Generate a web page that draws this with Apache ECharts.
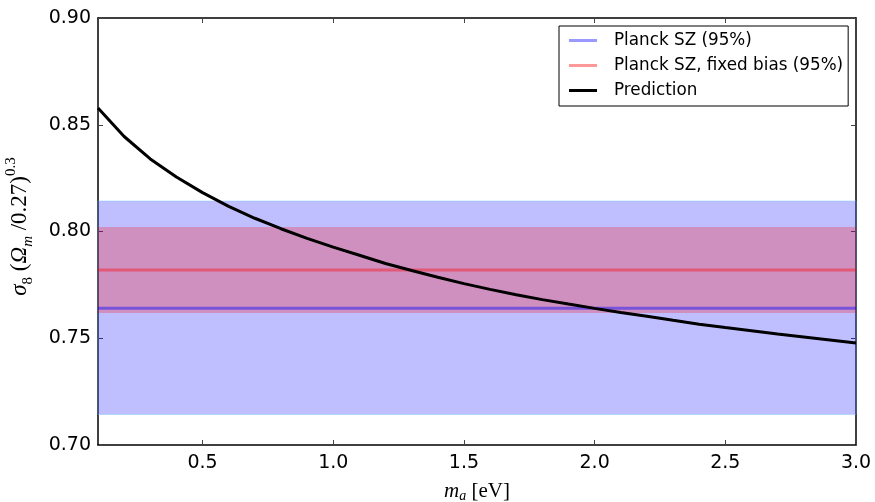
<!DOCTYPE html>
<html><head><meta charset="utf-8">
<script src="https://cdn.jsdelivr.net/npm/echarts@6/dist/echarts.min.js"></script>
<style>html,body{margin:0;padding:0;background:#fff}#c{width:875px;height:502px}</style>
</head><body><div id="c"></div>
<script>
// x positions of the prediction curve (eV)
const massValues = [0.1,0.2,0.3,0.4,0.5,0.6,0.7,0.8,0.9,1.0,1.1,1.2,1.3,1.4,1.5,1.6,1.7,1.8,1.9,2.0,2.1,2.2,2.3,2.4,2.5,2.6,2.7,2.8,2.9,3.0];
const predictionValues = [0.8578,0.8445,0.8340,0.8255,0.8182,0.8118,0.8062,0.8013,0.7968,0.7927,0.7889,0.7850,0.7817,0.7786,0.7756,0.7729,0.7704,0.7681,0.7660,0.7640,0.7621,0.7603,0.7584,0.7566,0.7550,0.7535,0.7520,0.7506,0.7492,0.7478];
const seriesNames = ['Planck SZ (95%)', 'Planck SZ, fixed bias (95%)', 'Prediction'];
const planckCenter = 0.764, planckLow = 0.7143, planckHigh = 0.8143;
const fixedCenter = 0.782, fixedLow = 0.7618, fixedHigh = 0.8021;
const xRange = [0.1, 3.0];
const yRange = [0.70, 0.90];
const xTicks = [0.5,1.0,1.5,2.0,2.5,3.0];
const yTicks = [0.70,0.75,0.80,0.85,0.90];

const chart = echarts.init(document.getElementById('c'));
const tickStyle = {show:true, inside:true, length:5, lineStyle:{color:'#444', width:1}};
const lineAx = {show:true, onZero:false, lineStyle:{color:'#000', width:1.5}};
const labelFont = {fontFamily:'DejaVu Sans', fontSize:19, color:'#000'};
const serif = 'Liberation Serif';
chart.setOption({
  animation:false,
  grid:{left:98, right:19, top:18, bottom:57, containLabel:false, outerBoundsMode:'none'},
  legend:{
    orient:'vertical', left:559, top:26,
    backgroundColor:'#fff', borderColor:'#000', borderWidth:1,
    padding:[6,5,7,10], itemGap:8, itemWidth:28, itemHeight:3, icon:'rect',
    textStyle:{fontFamily:'DejaVu Sans', fontSize:16.8, color:'#000', lineHeight:17, padding:[0,0,0,12]},
    data:[
      {name:seriesNames[0], itemStyle:{color:'rgba(0,0,255,0.4)'}},
      {name:seriesNames[1], itemStyle:{color:'rgba(255,0,0,0.4)'}},
      {name:seriesNames[2], itemStyle:{color:'#000'}, icon:'rect'}
    ]
  },
  xAxis:[{
    type:'value', min:xRange[0], max:xRange[1], position:'bottom',
    axisLine:lineAx, splitLine:{show:false},
    axisTick:Object.assign({customValues:xTicks}, tickStyle),
    axisLabel:Object.assign({customValues:xTicks, margin:9, formatter:v=>v.toFixed(1)}, labelFont),
    name:'{i|m}{s|a}{n| [eV]}', nameLocation:'middle', nameGap:34,
    nameTextStyle:{rich:{
      i:{fontFamily:serif, fontStyle:'italic', fontSize:21, color:'#000', lineHeight:24, verticalAlign:'middle'},
      s:{fontFamily:serif, fontStyle:'italic', fontSize:14, color:'#000', verticalAlign:'bottom'},
      n:{fontFamily:serif, fontSize:21, color:'#000', verticalAlign:'middle'}
    }}
  },{
    type:'value', min:xRange[0], max:xRange[1], position:'top',
    axisLine:lineAx, splitLine:{show:false},
    axisTick:Object.assign({customValues:xTicks}, tickStyle),
    axisLabel:{show:false}
  }],
  yAxis:[{
    type:'value', min:yRange[0], max:yRange[1], interval:0.05, position:'left',
    axisLine:lineAx, splitLine:{show:false},
    axisTick:Object.assign({customValues:yTicks}, tickStyle),
    axisLabel:Object.assign({customValues:yTicks, margin:7, formatter:v=>v.toFixed(2)}, labelFont),
    name:'{i|σ}{s|8}{n| (}{i|Ω}{si|m}{n| /0.27)}{p|0.3}', nameLocation:'middle', nameGap:62,
    nameTextStyle:{padding:[0,0,0,10], rich:{
      i:{fontFamily:serif, fontStyle:'italic', fontSize:23, color:'#000', lineHeight:32, verticalAlign:'middle'},
      s:{fontFamily:serif, fontSize:15, color:'#000', verticalAlign:'bottom'},
      si:{fontFamily:serif, fontStyle:'italic', fontSize:15, color:'#000', verticalAlign:'bottom'},
      n:{fontFamily:serif, fontSize:23, color:'#000', verticalAlign:'middle'},
      p:{fontFamily:serif, fontSize:15, color:'#000', verticalAlign:'top'}
    }}
  },{
    type:'value', min:yRange[0], max:yRange[1], interval:0.05, position:'right',
    axisLine:lineAx, splitLine:{show:false},
    axisTick:Object.assign({customValues:yTicks}, tickStyle),
    axisLabel:{show:false}
  }],
  series:[
    {
      name:seriesNames[0], type:'line', showSymbol:false, symbol:'none',
      color:'rgba(0,0,255,0.45)', lineStyle:{width:3, color:'rgba(0,0,255,0.42)'},
      data:xRange.map(x=>[x, planckCenter]),
      markArea:{silent:true, itemStyle:{color:'rgba(0,0,255,0.25)', borderColor:'rgba(120,200,255,0.4)', borderWidth:1},
        data:[[{yAxis:planckLow},{yAxis:planckHigh}]]}
    },
    {
      name:seriesNames[1], type:'line', showSymbol:false, symbol:'none',
      color:'rgba(255,0,0,0.45)', lineStyle:{width:3, color:'rgba(255,0,0,0.38)'},
      data:xRange.map(x=>[x, fixedCenter]),
      markArea:{silent:true, itemStyle:{color:'rgba(255,0,0,0.25)'},
        data:[[{yAxis:fixedLow},{yAxis:fixedHigh}]]}
    },
    {
      name:seriesNames[2], type:'line', showSymbol:false, symbol:'none', z:5,
      color:'#000', lineStyle:{width:3, color:'#000'},
      data:massValues.map((m,i)=>[m, predictionValues[i]])
    }
  ]
});
</script></body></html>
